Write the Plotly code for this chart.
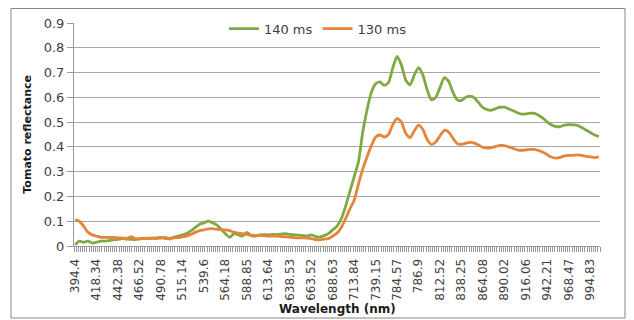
import plotly.graph_objects as go

# Labelled wavelengths (every 10th category on the axis)
wavelength_labels = ["394.4", "418.34", "442.38", "466.52", "490.78", "515.14", "539.6",
                     "564.18", "588.85", "613.64", "638.53", "663.52", "688.63", "713.84",
                     "739.15", "784.57", "786.9", "812.52", "838.25", "864.08", "890.02",
                     "916.06", "942.21", "968.47", "994.83"]
categories_per_label = 10
n_categories = 245
sample_step = 2  # values read at every 2nd category

refl_140ms = [0.005, 0.02, 0.015, 0.02, 0.012, 0.015, 0.02, 0.02, 0.022, 0.025,
              0.027, 0.03, 0.028, 0.027, 0.026, 0.03, 0.032, 0.03, 0.033, 0.03,
              0.032, 0.035, 0.028, 0.035, 0.04, 0.045, 0.05, 0.062, 0.075, 0.088,
              0.093, 0.1, 0.094, 0.085, 0.068, 0.05, 0.035, 0.05, 0.045, 0.04,
              0.055, 0.042, 0.04, 0.045, 0.046, 0.045, 0.047, 0.046, 0.048, 0.05,
              0.047, 0.045, 0.044, 0.042, 0.04, 0.045, 0.038, 0.036, 0.042, 0.05,
              0.065, 0.08, 0.11, 0.16, 0.22, 0.28, 0.34, 0.46, 0.55, 0.62,
              0.655, 0.662, 0.648, 0.66, 0.72, 0.765, 0.73, 0.67, 0.65, 0.69,
              0.72, 0.69, 0.63, 0.59, 0.6, 0.64, 0.68, 0.665, 0.62, 0.59,
              0.588, 0.6, 0.605, 0.598, 0.578, 0.558, 0.55, 0.548, 0.555, 0.56,
              0.56, 0.553, 0.546, 0.538, 0.532, 0.533, 0.536, 0.535, 0.527, 0.515,
              0.5, 0.488, 0.482, 0.482, 0.488, 0.49, 0.489, 0.487, 0.478, 0.468,
              0.458, 0.448, 0.442]

refl_130ms = [0.105, 0.1, 0.08, 0.055, 0.045, 0.04, 0.035, 0.035, 0.034, 0.035,
              0.033, 0.032, 0.03, 0.038, 0.03, 0.028, 0.03, 0.032, 0.03, 0.033,
              0.035, 0.03, 0.032, 0.033, 0.034, 0.037, 0.04, 0.047, 0.055, 0.062,
              0.065, 0.069, 0.07, 0.068, 0.066, 0.065, 0.062, 0.055, 0.052, 0.05,
              0.047, 0.044, 0.042, 0.043, 0.042, 0.04, 0.04, 0.04, 0.038, 0.037,
              0.036, 0.034, 0.033, 0.033, 0.032, 0.03, 0.026, 0.025, 0.028, 0.03,
              0.04, 0.052, 0.075, 0.11, 0.15, 0.185, 0.25, 0.31, 0.36, 0.405,
              0.44, 0.448, 0.44, 0.45, 0.49, 0.515, 0.5, 0.455, 0.437, 0.465,
              0.488, 0.47, 0.43, 0.41, 0.42, 0.445, 0.467, 0.46, 0.435, 0.413,
              0.41, 0.415, 0.418, 0.415, 0.407, 0.398, 0.395, 0.397, 0.402, 0.406,
              0.405, 0.4, 0.394, 0.388, 0.386, 0.388, 0.39, 0.39, 0.385, 0.378,
              0.368, 0.358, 0.355, 0.358, 0.364, 0.366, 0.366, 0.368, 0.366, 0.362,
              0.36, 0.357, 0.36]

series_names = ["140 ms", "130 ms"]
series_colors = ["#7FAA43", "#E6843A"]

x_idx = [k * sample_step for k in range(len(refl_140ms))]
tick_idx = [j * categories_per_label for j in range(len(wavelength_labels))]

FONT = "DejaVu Sans"
fig = go.Figure()
for name, vals, col in zip(series_names, [refl_140ms, refl_130ms], series_colors):
    fig.add_trace(go.Scatter(x=x_idx, y=vals, mode="lines", name=name,
                             line=dict(color=col, width=2.8, shape="spline", smoothing=0.6)))

fig.update_layout(
    width=626, height=312,
    margin=dict(l=66, r=34, t=15, b=74, autoexpand=False),
    paper_bgcolor="white", plot_bgcolor="white",
    font=dict(family=FONT, color="#404040"),
    showlegend=True,
    legend=dict(orientation="h", x=0.285, y=0.975, xanchor="left", yanchor="middle",
                font=dict(size=13, color="#404040"), bgcolor="rgba(0,0,0,0)",
                itemwidth=30, tracegroupgap=0),
    xaxis=dict(range=[-0.5, n_categories - 0.5], tickmode="array", tickvals=tick_idx,
               ticktext=wavelength_labels, tickangle=-90, tickfont=dict(size=12, color="#404040"),
               showgrid=False, zeroline=False, showline=True, linecolor="#9a9a9a", linewidth=1,
               ticks="", ticklabelstandoff=7, automargin=False,
               minor=dict(tick0=0.5, dtick=1, ticks="outside", ticklen=5, tickcolor="#9a9a9a",
                          showgrid=False)),
    yaxis=dict(range=[0, 0.9], tickvals=[0, 0.1, 0.2, 0.3, 0.4, 0.5, 0.6, 0.7, 0.8, 0.9],
               ticktext=["0", "0.1", "0.2", "0.3", "0.4", "0.5", "0.6", "0.7", "0.8", "0.9"],
               tickfont=dict(size=13, color="#404040"), automargin=False,
               showgrid=True, gridcolor="#a6a6a6", gridwidth=1, zeroline=False,
               showline=True, linecolor="#9a9a9a", linewidth=1,
               ticks="outside", ticklen=6, tickcolor="#9a9a9a"),
)

fig.add_annotation(text="<b>Wavelength (nm)</b>", xref="paper", yref="paper",
                   x=0.501, y=-0.282, xanchor="center", yanchor="middle", showarrow=False,
                   font=dict(family=FONT, size=12, color="#1a1a1a"))
fig.add_annotation(text="<b>Tomato reflectance</b>", xref="paper", yref="paper",
                   x=-0.089, y=0.5, xanchor="center", yanchor="middle", showarrow=False,
                   textangle=-90, font=dict(family=FONT, size=11, color="#1a1a1a"))
fig.add_shape(type="rect", xref="paper", yref="paper", x0=-0.1198, x1=1.0475,
              y0=-0.323, y1=1.065, line=dict(color="#868686", width=1), layer="below")

fig.write_html("out.html")
